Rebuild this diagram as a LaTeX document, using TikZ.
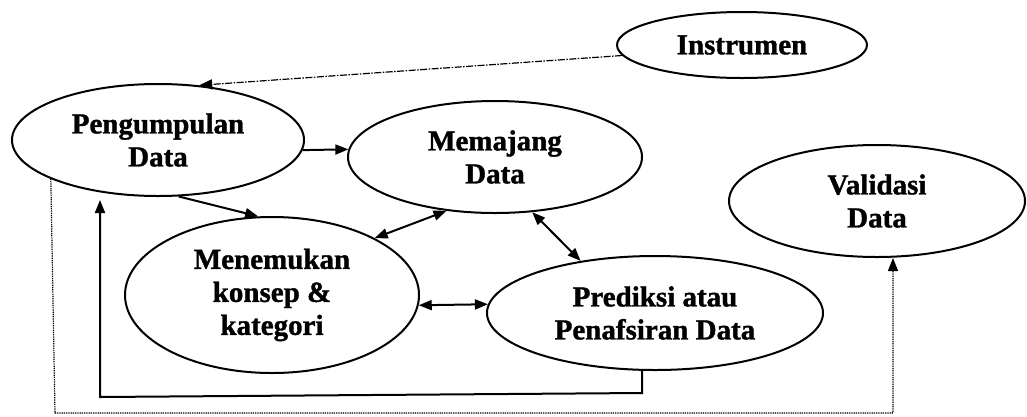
\documentclass[tikz,border=0pt]{standalone}
\usepackage{fontspec}
\setmainfont{Liberation Serif}[BoldFeatures={FakeBold=1.2}]
\usetikzlibrary{shapes.geometric,arrows.meta}
\tikzset{
  bub/.style={draw, ellipse, line width=2pt, inner sep=0pt, align=center,
    font=\bfseries\fontsize{29}{33}\selectfont},
  arr/.style={line width=2pt, -{Triangle[length=13pt,width=10pt]}},
  darr/.style={line width=2pt, {Triangle[length=13pt,width=10pt]}-{Triangle[length=13pt,width=10pt]}},
  dotln/.style={line width=1.2pt, dash pattern=on 1pt off 0.8pt, -{Triangle[length=13pt,width=10pt]}},
  dashln/.style={line width=1.2pt, dash pattern=on 7pt off 1.5pt on 1.5pt off 1.5pt, -{Triangle[length=13pt,width=10pt]}},
}
\begin{document}
\begin{tikzpicture}[x=1pt,y=-1pt]
\useasboundingbox (0,0) rectangle (1027,416);
\node[bub, minimum width=250pt, minimum height=66pt] (instr) at (742,45) {Instrumen};
\node[bub, minimum width=292pt, minimum height=112pt] (peng) at (158,140) {Pengumpulan\\Data};
\node[bub, minimum width=294pt, minimum height=112pt] (mem) at (495,157) {Memajang\\Data};
\node[bub, minimum width=296pt, minimum height=112pt] (val) at (877,201) {Validasi\\Data};
\node[bub, minimum width=294pt, minimum height=156pt] (menem) at (272,295) {Menemukan\\konsep \&\\kategori};
\node[bub, minimum width=336pt, minimum height=114pt] (pred) at (655,313) {Prediksi atau\\Penafsiran Data};

\coordinate (fbR) at (642,393);
\coordinate (fbL) at (100,397);
\coordinate (dL) at (55,413);
\coordinate (dR) at (893,413);

\draw[dashln] (instr.185.6) -- (peng.53);
\draw[arr] (peng.-4) -- (mem.177);
\draw[arr] (peng.-70.3) -- (menem.100);
\draw[darr] (menem.29) -- (mem.-132);
\draw[darr] (mem.-56) -- (pred.145);
\draw[darr] (menem.-4) -- (pred.177);
\draw[arr] (fbR |- pred.south) -- (fbR) -- (fbL) -- ([yshift=-3pt]fbL |- peng.south);
\draw[dotln] (peng.200.3) -- (dL) -- (dR) -- (dR |- val.south);
\end{tikzpicture}
\end{document}
